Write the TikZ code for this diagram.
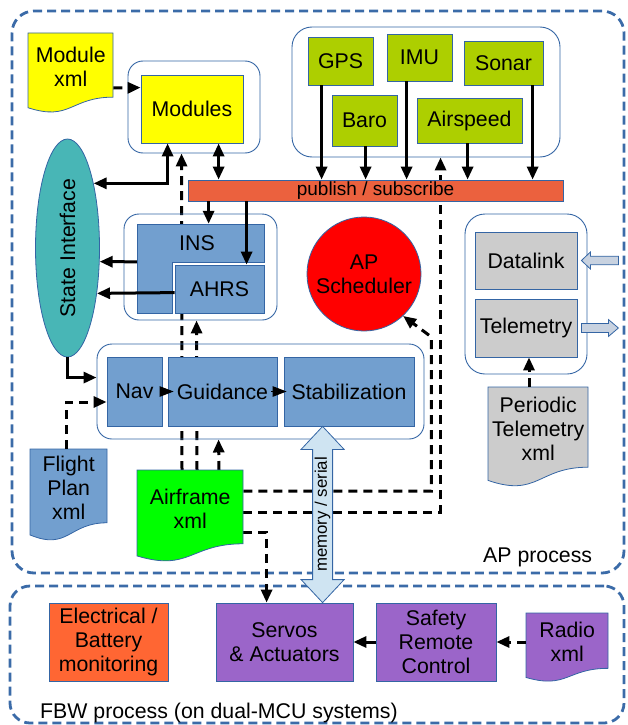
\documentclass[tikz,border=0pt]{standalone}
\usepackage{fontspec}
\setmainfont{Liberation Sans}
\usetikzlibrary{arrows.meta,calc,shapes.geometric}
\definecolor{procc}{HTML}{3B6BA8}
\definecolor{bordc}{HTML}{3465A4}
\definecolor{sensg}{HTML}{ADCF00}
\definecolor{pubc}{HTML}{EB613E}
\definecolor{skyb}{HTML}{729FCF}
\definecolor{tealc}{HTML}{48B6B6}
\definecolor{elecc}{HTML}{FF6633}
\definecolor{purp}{HTML}{9B65C9}
\definecolor{grayb}{HTML}{CCCCCC}
\definecolor{memc}{HTML}{CFE4F2}
\definecolor{blockc}{HTML}{C8D2E0}
\definecolor{afg}{HTML}{00FF00}
\definecolor{yel}{HTML}{FFFF00}
\pgfdeclarelayer{bg}
\pgfsetlayers{bg,main}
% document shape: name, x1, y1, x2, height, fill, text
\newcommand\docshape[7]{%
  \path[draw=bordc, line width=0.8pt, fill=#6] (#2,#3) -- (#4,#3) -- (#4,{#3+0.802*#5})
    .. controls ({(#2+#4)/2},{#3+0.802*#5}) and ({(#2+#4)/2},{#3+1.107*#5}) .. (#2,{#3+0.934*#5}) -- cycle;
  \node[inner sep=0, minimum width={#4-#2}, minimum height={0.84*#5}, anchor=north west, align=center] (#1) at (#2,#3) {#7};
}
\tikzset{
  cont/.style={draw=bordc, line width=0.9pt, rounded corners=15pt, inner sep=0},
  rbox/.style={draw=bordc, line width=0.8pt, inner sep=0, align=center},
  proc/.style={draw=procc, line width=2.8pt, dash pattern=on 9pt off 5pt, rounded corners=22pt, inner sep=0},
  arr/.style={line width=3pt, -{Triangle[length=13pt,width=11pt]}},
  darr/.style={arr, dash pattern=on 9pt off 6pt},
  dbl/.style={line width=3pt, {Triangle[length=13pt,width=11pt]}-{Triangle[length=13pt,width=11pt]}},
  smallarr/.style={line width=1pt, -{Triangle[length=14pt,width=10.5pt]}},
  blk/.style={draw=bordc, line width=0.8pt, fill=blockc},
}
\begin{document}
\begin{tikzpicture}[x=1pt,y=-1pt, font=\fontsize{21.3}{24}\selectfont]
\useasboundingbox (0,0) rectangle (627,725);

\begin{pgfonlayer}{bg}
  \node[proc, minimum width=612, minimum height=562] (ap) at (318,292) {};
  \node[proc, rounded corners=20pt, minimum width=614, minimum height=137] (fbw) at (317,654.5) {};
\end{pgfonlayer}

% Modules
\docshape{mxml}{28}{33}{113}{80}{yel}{Module\\xml}
\node[cont, minimum width=132, minimum height=92] (modc) at (194,107) {};
\node[rbox, fill=yel, minimum width=102, minimum height=68] (mod) at (192,109) {Modules};

% Sensors
\node[cont, rounded corners=20pt, minimum width=268, minimum height=130] (senc) at (426,92) {};
\node[rbox, fill=sensg, minimum width=65, minimum height=48] (gps) at (340.5,61) {GPS};
\node[rbox, fill=sensg, minimum width=65, minimum height=47] (imu) at (419.5,57.5) {IMU};
\node[rbox, fill=sensg, minimum width=79, minimum height=44] (sonar) at (503.5,63) {Sonar};
\node[rbox, fill=sensg, minimum width=65, minimum height=51] (baro) at (364.5,120.5) {Baro};
\node[rbox, fill=sensg, minimum width=105, minimum height=45] (airsp) at (469.5,120.5) {Airspeed};

% publish / subscribe
\node[rbox, fill=pubc, minimum width=375, minimum height=21, font=\fontsize{19}{22}\selectfont] (pub) at (375.5,190.5) {publish / subscribe};

% State interface
\node[ellipse, draw=bordc, line width=0.8pt, fill=tealc, minimum width=64, minimum height=218, inner sep=0] (si) at (67.5,248) {\rotatebox{90}{State Interface}};

% INS / AHRS
\node[cont, minimum width=153, minimum height=106] (insc) at (200.5,267) {};
\path[draw=bordc, line width=0.8pt, fill=skyb] (137,224) -- (264,224) -- (264,262) -- (172,262) -- (172,313) -- (137,313) -- cycle;
\node[inner sep=0, minimum width=127, minimum height=38] (ins) at (200.5,243) {\hspace*{-7pt}INS};
\node[rbox, fill=skyb, minimum width=89, minimum height=48] (ahrs) at (219.5,289) {AHRS};

% AP Scheduler
\node[circle, draw=bordc, line width=0.8pt, fill=red, minimum size=114, inner sep=0, align=center] (sched) at (364,274) {AP\\Scheduler};

% Datalink / Telemetry
\node[cont, rounded corners=20pt, minimum width=122, minimum height=160] (dlc) at (526,294) {};
\node[rbox, fill=grayb, minimum width=102, minimum height=57] (datalink) at (526,260.5) {Datalink};
\node[rbox, fill=grayb, minimum width=102, minimum height=58] (telem) at (526,328) {Telemetry};
\docshape{ptx}{488}{387}{588}{100}{grayb}{Periodic\\Telemetry\\xml}

% Nav / Guidance / Stabilization
\node[cont, minimum width=327, minimum height=95] (navc) at (260.5,391.5) {};
\node[rbox, fill=skyb, minimum width=55, minimum height=69] (nav) at (134.5,391.5) {Nav};
\node[rbox, fill=skyb, minimum width=109, minimum height=69] (guid) at (222.5,391.5) {Guidance};
\node[rbox, fill=skyb, minimum width=130, minimum height=69] (stab) at (349,391.5) {Stabilization};

\docshape{fpx}{30}{449}{107}{92}{skyb}{Flight\\Plan\\xml}
\docshape{afx}{137}{470}{243}{92}{afg}{Airframe\\xml}

% FBW
\node[rbox, fill=elecc, minimum width=119, minimum height=78] (elec) at (108.5,642) {Electrical /\\Battery\\monitoring};
\node[rbox, fill=purp, minimum width=137, minimum height=78] (servo) at (284.5,642) {Servos\\\& Actuators};
\node[rbox, fill=purp, minimum width=120, minimum height=78] (safety) at (436,642) {Safety\\Remote\\Control};
\docshape{radio}{526}{613}{608}{69}{purp}{Radio\\xml}

% labels
\node[anchor=base west, inner sep=0] (aplbl) at (483,562) {AP process};
\node[anchor=base west, inner sep=0] (fbwlbl) at (40,718) {FBW process (on dual-MCU systems)};

% dashed connectors behind boxes
\begin{pgfonlayer}{bg}
  \draw[darr] ($(afx.north west)+(45,0)$) -- ($(modc.south west)+(54,0)$);
  \draw[darr] ($(afx.north west)+(60,0)$) -- ($(insc.south west)+(73,0)$);
  \draw[darr] ($(afx.north west)+(82,0)$) -- ($(navc.south west)+(122,0)$);
  \draw[darr] ($(afx.north east)+(0,21)$) -- ++(188,0) -- ++(0,-154) -- (sched.-47);
  \draw[darr] ($(afx.north east)+(0,42)$) -| ($(senc.south west)+(149,0)$);
  \draw[darr] ($(afx.north east)+(0,62)$) -| ($(servo.north west)+(51,0)$);
\end{pgfonlayer}

% sensor arrows
\draw[arr] ($(gps.south west)+(14,0)$) coordinate (g1) -- (g1 |- pub.north);
\draw[arr] ($(baro.south west)+(34,0)$) coordinate (g2) -- (g2 |- pub.north);
\draw[arr] ($(imu.south west)+(20,0)$) coordinate (g3) -- (g3 |- pub.north);
\draw[arr] ($(airsp.south west)+(51,0)$) coordinate (g4) -- (g4 |- pub.north);
\draw[arr] ($(sonar.south west)+(69,0)$) coordinate (g5) -- (g5 |- pub.north);

% pub to INS / AHRS
\draw[arr] ($(pub.south west)+(21,0)$) coordinate (p1) -- (p1 |- ins.north);
\draw[arr] ($(pub.south west)+(59,0)$) coordinate (p2) -- (p2 |- ahrs.north);

% modules
\draw[darr] ($(mxml.north east)+(0,55)$) -- ($(mod.north west)+(0,13)$);
\draw[dbl] ($(mod.south west)+(78,0)$) coordinate (m1) -- (m1 |- pub.north);
\draw[dbl] (si.68.43) -| ($(mod.south west)+(27,0)$);

% to state interface
\draw[arr] ($(ins.north west)+(0,38)$) -- (si.-23.81);
\draw[arr] ($(ahrs.north west)+(0,28)$) -- (si.-57.07);
\draw[arr] (si.south) |- ($(navc.north west)+(0,34)$);
\draw[darr] ($(fpx.north)+(-2.5,0)$) |- ($(nav.west)+(0,10.5)$);

% nav chain
\draw[smallarr] ($(nav.east)+(-2,0)$) -- ($(guid.west)+(6,0)$);
\draw[smallarr] ($(guid.east)+(-6,0)$) -- ($(stab.west)+(3,0)$);

% telemetry
\path ($(telem.south)+(3,0)$) coordinate (t1);
\draw[darr] (t1 |- ptx.north) -- (t1);
\coordinate (dlt) at ($(datalink.east)+(4,0)$);
\draw[blk, shift={(dlt)}] (0,0) -- (9,-8.5) -- (9,-4.3) -- (37,-4.3) -- (37,4.3) -- (9,4.3) -- (9,8.5) -- cycle;
\coordinate (tt) at ($(telem.east)+(4,0)$);
\draw[blk, shift={(tt)}] (0,-4.5) -- (27,-4.5) -- (27,-8.5) -- (37,0) -- (27,8.5) -- (27,4.5) -- (0,4.5) -- cycle;

% FBW arrows
\draw[darr] (safety.east -| radio.west) -- (safety.east);
\draw[arr] (safety.west) -- (servo.east);

% memory / serial
\coordinate (mt) at ($(stab.south west)+(39,0)$);
\coordinate (mb) at (mt |- servo.north);
\draw[draw=bordc, line width=0.8pt, fill=memc] (mt) -- ($(mt)+(21.5,23)$) -- ($(mt)+(10,23)$) -- ($(mb)+(10,-23)$) -- ($(mb)+(21.5,-23)$) -- (mb) -- ($(mb)+(-21.5,-23)$) -- ($(mb)+(-10,-23)$) -- ($(mt)+(-10,23)$) -- ($(mt)+(-21.5,23)$) -- cycle;
\node[rotate=90, inner sep=0, font=\fontsize{16.8}{20}\selectfont] (mem) at ($(mt)!0.5!(mb)$) {memory / serial};
\end{tikzpicture}
\end{document}
